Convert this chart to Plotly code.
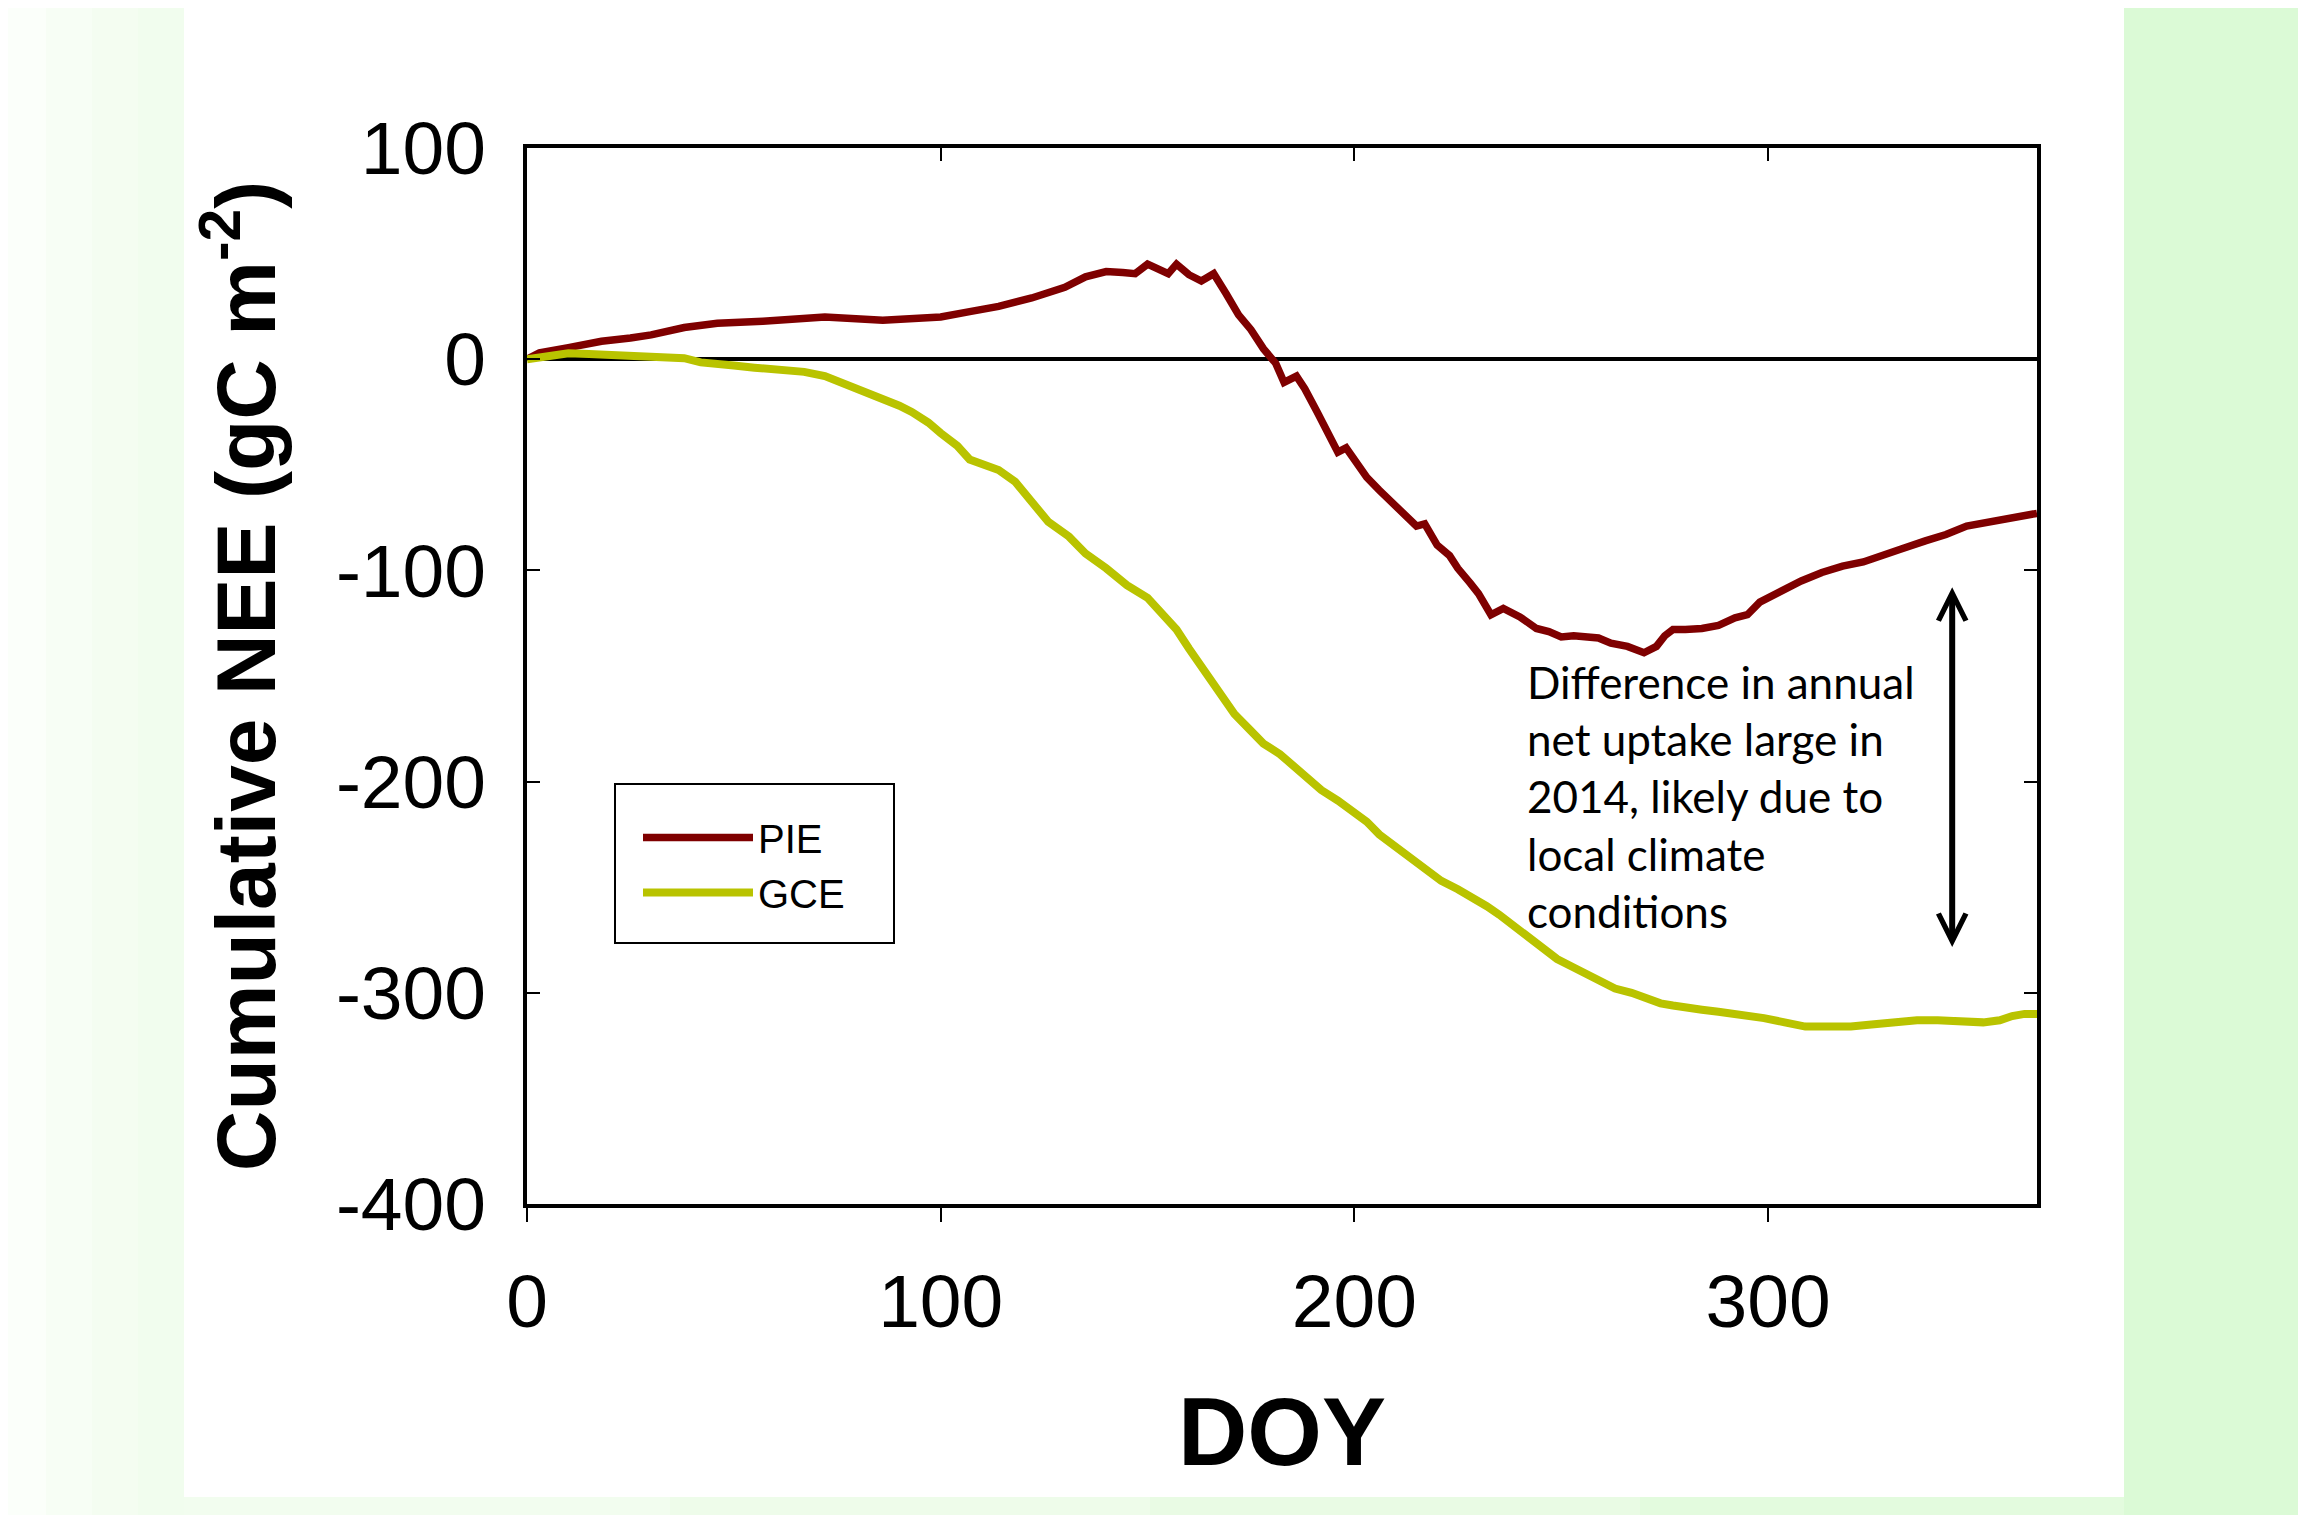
import plotly.graph_objects as go

# ---------------- data ----------------
pie_doy = [0, 3, 10, 18, 25, 30, 38, 46, 57, 72, 86, 93, 100, 107, 114, 122, 130, 135, 140, 144,
           147, 150, 153, 155, 157, 160, 163, 166, 169, 172, 175, 178, 181, 183, 186, 188, 191, 194,
           196, 198, 201, 203, 206, 208, 211, 213, 215, 217, 220, 223, 225, 228, 230, 233, 236, 240,
           244, 247, 250, 253, 256, 259, 262, 266, 270, 273, 275, 277, 280, 284, 288, 292, 295, 298,
           302, 308, 313, 318, 323, 327, 332, 338, 343, 348, 353, 358, 365]
pie_nee = [0, 3, 5.5, 8.5, 10, 11.5, 15, 17, 18, 20, 18.5, 19, 20, 22.5, 25, 29, 34, 39, 41.5, 41,
           40.5, 45, 42, 40.5, 45, 40, 37, 40.5, 31, 21, 14, 5, -2, -11, -8, -14, -25, -36,
           -44, -42, -51, -56, -62, -66, -72, -76, -79, -78, -88, -93, -99, -106, -111, -121, -118, -122,
           -127.5, -129, -131.5, -131, -131.5, -132, -134.5, -136, -139, -136, -131, -128, -128, -127.5, -126, -122.5, -121, -115,
           -111, -105, -101, -98, -96, -93, -90, -86, -83, -79, -77, -75, -73]

gce_doy = [0, 5, 10, 15, 22, 30, 38, 42, 47, 50, 55, 61, 67, 72, 76, 79, 83, 86, 90, 93, 97, 100,
           104, 107, 111, 114, 118, 122, 126, 131, 135, 140, 145, 150, 155, 157, 160, 164, 168, 171,
           175, 178, 182, 185, 189, 192, 196, 199, 203, 206, 210, 214, 218, 221, 225, 228, 232, 235,
           239, 242, 246, 249, 253, 256, 260, 263, 267, 270, 274, 277, 281, 284, 288, 292, 296, 299,
           304, 309, 315, 320, 325, 330, 336, 341, 347, 352, 356, 359, 362, 365]
gce_nee = [0, 1.5, 2.8, 2.5, 1.9, 1.5, 0.5, -1.5, -2, -3, -4, -5, -6, -8, -11, -13.5, -16, -19, -22, -25, -30, -35,
           -41, -47.5, -50, -52.5, -58, -68, -77, -84, -92, -99, -107, -113, -124, -128, -137, -148, -160, -168,
           -176, -182, -187, -192, -198, -204, -209, -213, -219, -225, -231, -237, -243, -247, -251, -254, -259, -263,
           -269, -274, -280, -284, -288, -291, -295, -298, -300, -302, -305, -306, -307.5, -308, -309, -310, -311, -312,
           -314, -316, -316, -316, -315, -314, -313, -313, -314, -314, -313, -311, -310, -310]

x_ticks = [0, 100, 200, 300]
x_ticklabels = ["0", "100", "200", "300"]
y_ticks = [100, 0, -100, -200, -300, -400]
y_ticklabels = ["100", "0", "-100", "-200", "-300", "-400"]

series_names = ["PIE", "GCE"]
series_colors = ["#7f0000", "#b9c300"]

note_text = "Difference in annual<br>net uptake large in<br>2014, likely due to<br>local climate<br>conditions"
arrow_x = 344.5
arrow_top = -108
arrow_bottom = -279

# ---------------- geometry (page pixels; the page body adds an 8px offset) ----------------
OFF = 8
PAGE_W, PAGE_H = 2306, 1515
W, H = PAGE_W - OFF, PAGE_H - OFF
L, R, T, B = 527 - OFF, 2037 - OFF, 148 - OFF, 1204 - OFF


def px(v):
    return (v - OFF - L) / (R - L)


def py(v):
    return (B - (v - OFF)) / (B - T)


fig = go.Figure()
fig.add_trace(go.Scatter(x=pie_doy, y=pie_nee, mode="lines", name=series_names[0],
                         line=dict(color=series_colors[0], width=7.5)))
fig.add_trace(go.Scatter(x=gce_doy, y=gce_nee, mode="lines", name=series_names[1],
                         line=dict(color=series_colors[1], width=8)))
# helper trace so the top axis (inside ticks) is drawn
fig.add_trace(go.Scatter(x=[None], y=[None], xaxis="x2", showlegend=False, hoverinfo="skip"))

# left pale strip as a stepped gradient
left_edges = [-20, 46, 92, 138, 184]
left_cols = ["#fbfffa", "#f7fef5", "#f4fdf1", "#f1fdee"]
shapes = []
for i, c in enumerate(left_cols):
    shapes.append(dict(type="rect", xref="paper", yref="paper", x0=px(left_edges[i]),
                       x1=px(left_edges[i + 1]), y0=py(1530), y1=py(-20),
                       fillcolor=c, line_width=0, layer="below"))
# bottom strip as a stepped gradient
bot_edges = [184, 670, 1150, 1640, 2124]
bot_cols = ["#f2fdef", "#eefcea", "#e9fbe4", "#e3fbde"]
for i, c in enumerate(bot_cols):
    shapes.append(dict(type="rect", xref="paper", yref="paper", x0=px(bot_edges[i]),
                       x1=px(bot_edges[i + 1]), y0=py(1530), y1=py(1497),
                       fillcolor=c, line_width=0, layer="below"))
shapes += [
    # white panel
    dict(type="rect", xref="paper", yref="paper", x0=px(184), x1=px(2124), y0=py(1497), y1=py(-20),
         fillcolor="#ffffff", line_width=0, layer="below"),
    # legend frame
    dict(type="rect", xref="paper", yref="paper", x0=px(615), x1=px(894), y0=py(943), y1=py(784),
         fillcolor="white", line=dict(color="black", width=2), layer="below"),
]

annotations = [
    dict(x=241.2, y=-207, xref="x", yref="y", text=note_text, showarrow=False,
         xanchor="left", yanchor="middle", align="left",
         font=dict(family="Lato, Open Sans, sans-serif", size=44, color="black")),
    dict(x=arrow_x, y=arrow_top, ax=arrow_x, ay=arrow_bottom, xref="x", yref="y",
         axref="x", ayref="y", text="", showarrow=True, arrowside="end+start",
         arrowhead=5, startarrowhead=5, arrowsize=0.9, startarrowsize=0.9,
         arrowwidth=6, arrowcolor="black"),
]

axis_font = dict(family="Liberation Sans, Arial, sans-serif", size=75, color="black")

fig.update_layout(
    width=W, height=H,
    margin=dict(l=L, r=W - R, t=T, b=H - B, pad=0),
    paper_bgcolor="#dbfad6",
    plot_bgcolor="white",
    shapes=shapes,
    annotations=annotations,
    showlegend=True,
    legend=dict(x=px(638), y=py(805), xanchor="left", yanchor="top",
                bgcolor="rgba(0,0,0,0)", borderwidth=0,
                font=dict(family="Liberation Sans, Arial, sans-serif", size=40, color="black"),
                itemwidth=110, tracegroupgap=0),
    xaxis=dict(range=[0, 365], tickvals=x_ticks, ticktext=x_ticklabels, ticks="outside",
               ticklen=14, tickwidth=2, tickcolor="black", showline=True, linecolor="black",
               linewidth=4, mirror=True, showgrid=False, zeroline=False, tickfont=axis_font,
               ticklabelstandoff=15,
               title=dict(text="<b>DOY</b>", standoff=57,
                          font=dict(family="Liberation Sans, Arial, sans-serif", size=96, color="black"))),
    xaxis2=dict(range=[0, 365], overlaying="x", side="top", tickvals=x_ticks, ticks="inside",
                ticklen=13, tickwidth=2, tickcolor="black", showticklabels=False,
                showline=False, showgrid=False, zeroline=False),
    yaxis=dict(range=[-400, 100], tickvals=y_ticks, ticktext=y_ticklabels, ticks="inside",
               ticklen=13, tickwidth=2, tickcolor="black", showline=True, linecolor="black",
               linewidth=4, mirror="ticks", showgrid=False, zeroline=True, zerolinecolor="black",
               zerolinewidth=4, tickfont=axis_font, ticklabelstandoff=22,
               title=dict(text="<b>Cumulative NEE (gC m<sup>-2</sup>)</b>", standoff=33,
                          font=dict(family="Liberation Sans, Arial, sans-serif", size=84, color="black"))),
)

fig.write_html("out.html")
